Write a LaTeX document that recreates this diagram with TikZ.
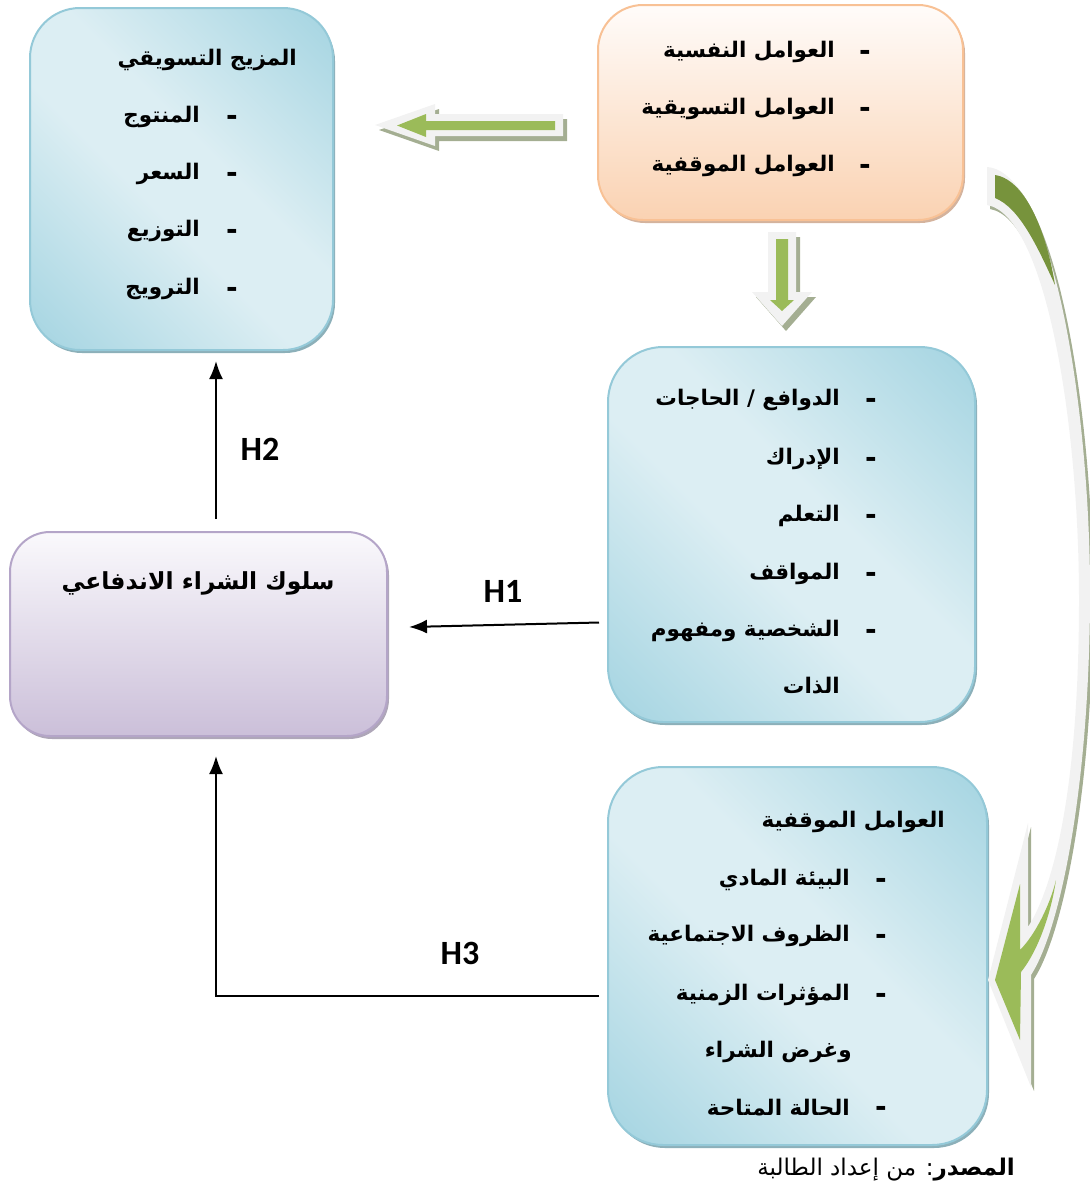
\documentclass[tikz,border=0pt]{standalone}
\usepackage{fontspec}
\setmainfont{Liberation Serif}
\newfontfamily\arabicfont[Script=Arabic]{DejaVu Sans}
\newfontfamily\hfont{Carlito}
\TeXXeTstate=1
\usepackage{tikz}
\usetikzlibrary{shapes,arrows.meta,calc,shadows}
\usepackage{xcolor}

\definecolor{bluedark}{HTML}{97CEDD}
\definecolor{bluelight}{HTML}{DCEEF3}
\definecolor{blueline}{HTML}{94C9D8}
\definecolor{blueshade}{HTML}{6F9CA8}
\definecolor{peachtop}{HTML}{FFFCFA}
\definecolor{peachbot}{HTML}{FAD2B2}
\definecolor{peachline}{HTML}{F8C195}
\definecolor{peachshade}{HTML}{C9A085}
\definecolor{lilactop}{HTML}{FAF9FC}
\definecolor{lilacbot}{HTML}{CBBFD9}
\definecolor{lilacline}{HTML}{B4A5C8}
\definecolor{lilacshade}{HTML}{9A90A6}
\definecolor{leafgreen}{HTML}{9BBB59}
\definecolor{leafdark}{HTML}{77933C}
\definecolor{arrwhite}{HTML}{F2F2F2}
\definecolor{arrgray}{HTML}{A4AE92}

\pgfdeclareverticalshading{bluemirror}{100bp}{color(0bp)=(bluedark); color(8bp)=(bluedark); color(44bp)=(bluelight); color(56bp)=(bluelight); color(92bp)=(bluedark); color(100bp)=(bluedark)}

\tikzset{
  bluebox/.style={rectangle, draw=blueline, line width=2pt, shading=bluemirror, shading angle=-45,
    drop shadow={shadow xshift=2pt, shadow yshift=-3pt, fill=blueshade, opacity=0.8}},
  peachbox/.style={rectangle, draw=peachline, line width=2pt, top color=peachtop, bottom color=peachbot,
    drop shadow={shadow xshift=2pt, shadow yshift=-3pt, fill=peachshade, opacity=0.8}},
  lilacbox/.style={rectangle, draw=lilacline, line width=2pt, top color=lilactop, bottom color=lilacbot,
    drop shadow={shadow xshift=2pt, shadow yshift=-3pt, fill=lilacshade, opacity=0.8}},
  artxt/.style={font=\arabicfont\bfseries\fontsize{21.5}{25}\selectfont, anchor=east, inner sep=0pt},
  bul/.style={font=\arabicfont\bfseries\fontsize{28}{30}\selectfont, anchor=east, inner sep=0pt, yshift=-3pt},
  hlab/.style={font=\hfont\bfseries\fontsize{34}{38}\selectfont, inner sep=0pt},
  link/.style={->, line width=2pt},
  arrshadow/.style={fill=arrgray},
  arrface/.style={fill=arrwhite},
  arrgreen/.style={fill=leafgreen}
}

\begin{document}
\begin{tikzpicture}[x=1pt,y=-1pt,>={Latex[length=18pt,width=14pt]}]
\useasboundingbox (0,0) rectangle (1090,1192);

% boxes
\node[bluebox, minimum width=303pt, minimum height=342pt, rounded corners=50pt] (mix) at (181.5,179) {};
\node[peachbox, minimum width=365pt, minimum height=215pt, rounded corners=45pt] (fact) at (780.5,112.5) {};
\node[bluebox, minimum width=367pt, minimum height=375pt, rounded corners=55pt] (psy) at (791.5,534.5) {};
\node[bluebox, minimum width=379pt, minimum height=378pt, rounded corners=55pt] (sit) at (797.5,956) {};
\node[lilacbox, minimum width=377pt, minimum height=204pt, rounded corners=40pt] (buy) at (198.5,634) {};

% marketing mix
\node[artxt] (mixt) at (297,60) {\beginR المزيج التسويقي\endR};
\node[bul] (mixd1) at (238,117) {-};
\node[artxt] (mix1) at (200,117) {\beginR المنتوج\endR};
\node[bul] (mixd2) at (238,174) {-};
\node[artxt] (mix2) at (200,174) {\beginR السعر\endR};
\node[bul] (mixd3) at (238,231) {-};
\node[artxt] (mix3) at (200,231) {\beginR التوزيع\endR};
\node[bul] (mixd4) at (238,289) {-};
\node[artxt] (mix4) at (200,289) {\beginR الترويج\endR};

% factors
\node[bul] (factd1) at (871,52) {-};
\node[artxt] (fact1) at (835,52) {\beginR العوامل النفسية\endR};
\node[bul] (factd2) at (871,109) {-};
\node[artxt] (fact2) at (835,109) {\beginR العوامل التسويقية\endR};
\node[bul] (factd3) at (871,166) {-};
\node[artxt] (fact3) at (835,166) {\beginR العوامل الموقفية\endR};

% psychological
\node[bul] (psyd1) at (877,400) {-};
\node[artxt] (psy1) at (840,400) {\beginR الدوافع / الحاجات\endR};
\node[bul] (psyd2) at (877,459) {-};
\node[artxt] (psy2) at (840,459) {\beginR الإدراك\endR};
\node[bul] (psyd3) at (877,516) {-};
\node[artxt] (psy3) at (840,516) {\beginR التعلم\endR};
\node[bul] (psyd4) at (877,574) {-};
\node[artxt] (psy4) at (840,574) {\beginR المواقف\endR};
\node[bul] (psyd5) at (877,631) {-};
\node[artxt] (psy5) at (840,631) {\beginR الشخصية ومفهوم\endR};
\node[artxt] (psy6) at (840,686) {\beginR الذات\endR};

% situational
\node[artxt] (sitt) at (945,822) {\beginR العوامل الموقفية\endR};
\node[bul] (sitd1) at (887,880) {-};
\node[artxt] (sit1) at (850,880) {\beginR البيئة المادي\endR};
\node[bul] (sitd2) at (887,936) {-};
\node[artxt] (sit2) at (850,936) {\beginR الظروف الاجتماعية\endR};
\node[bul] (sitd3) at (887,995) {-};
\node[artxt] (sit3) at (850,995) {\beginR المؤثرات الزمنية\endR};
\node[artxt] (sit4) at (852,1052) {\beginR وغرض الشراء\endR};
\node[bul] (sitd5) at (887,1108) {-};
\node[artxt] (sit5) at (850,1108) {\beginR الحالة المتاحة\endR};

% impulse buying
\node[artxt, anchor=center, font=\arabicfont\bfseries\fontsize{23.5}{28}\selectfont] (buyt) at (198,583) {\beginR سلوك الشراء الاندفاعي\endR};

% hypotheses
\draw[link] ($(psy.west)+(-8,88)$) -- ($(buy.east)+(21,-7)$);
\draw[link] ($(buy.north)+(17.5,-12)$) -- ($(mix.south)+(34.5,10)$);
\draw[link] ($(sit.west)+(-8,40)$) -| ($(buy.south)+(17.5,19)$);
\node[hlab] (h1) at (503,591) {H1};
\node[hlab] (h2) at (260,449) {H2};
\node[hlab] (h3) at (460,953) {H3};

% block arrows
\fill[arrshadow, shift={(4,5)}] (563,114) -- (435,114) -- (435,104) -- (375,125) -- (435,146) -- (435,136) -- (563,136) -- cycle;
\fill[arrface] (563,114) -- (435,114) -- (435,104) -- (375,125) -- (435,146) -- (435,136) -- (563,136) -- cycle;
\fill[arrgreen] (555,121) -- (426,121) -- (426,114) -- (397,125.5) -- (426,137) -- (426,130) -- (555,130) -- cycle;

\fill[arrshadow, shift={(4,5)}] (768,232) -- (796,232) -- (796,292) -- (812,292) -- (782,326) -- (752,292) -- (768,292) -- cycle;
\fill[arrface] (768,232) -- (796,232) -- (796,292) -- (812,292) -- (782,326) -- (752,292) -- (768,292) -- cycle;
\fill[arrgreen] (776,239) -- (788,239) -- (788,300) -- (794,300) -- (782,311) -- (770,300) -- (776,300) -- cycle;

% curved arrow
\fill[arrshadow, shift={(3,4)}] (987,167) .. controls (1055,172) and (1091,420) .. (1090,600)
  .. controls (1089,790) and (1060,930) .. (1031,975) -- (1031,1087) -- (988,980) -- (1028,823) -- (1028,927)
  .. controls (1058,880) and (1079,770) .. (1079,600) .. controls (1079,420) and (1045,215) .. (987,205) -- cycle;
\fill[arrface] (987,167) .. controls (1055,172) and (1091,420) .. (1090,600)
  .. controls (1089,790) and (1060,930) .. (1031,975) -- (1031,1087) -- (988,980) -- (1028,823) -- (1028,927)
  .. controls (1058,880) and (1079,770) .. (1079,600) .. controls (1079,420) and (1045,215) .. (987,205) -- cycle;
\fill[leafdark] (995,175) .. controls (1028,180) and (1048,240) .. (1055,285) .. controls (1038,248) and (1020,208) .. (995,198) -- cycle;
\fill[arrgreen] (995,980) -- (1020,884) -- (1020,950) .. controls (1035,935) and (1050,905) .. (1056,880)
  .. controls (1050,920) and (1035,955) .. (1021,972) -- (1020,1040) -- cycle;

% source
\node[anchor=east, inner sep=0pt, font=\arabicfont\fontsize{23}{26}\selectfont] (src) at (1015,1170) {\beginR\textbf{المصدر}: من إعداد الطالبة\endR};
\end{tikzpicture}
\end{document}
